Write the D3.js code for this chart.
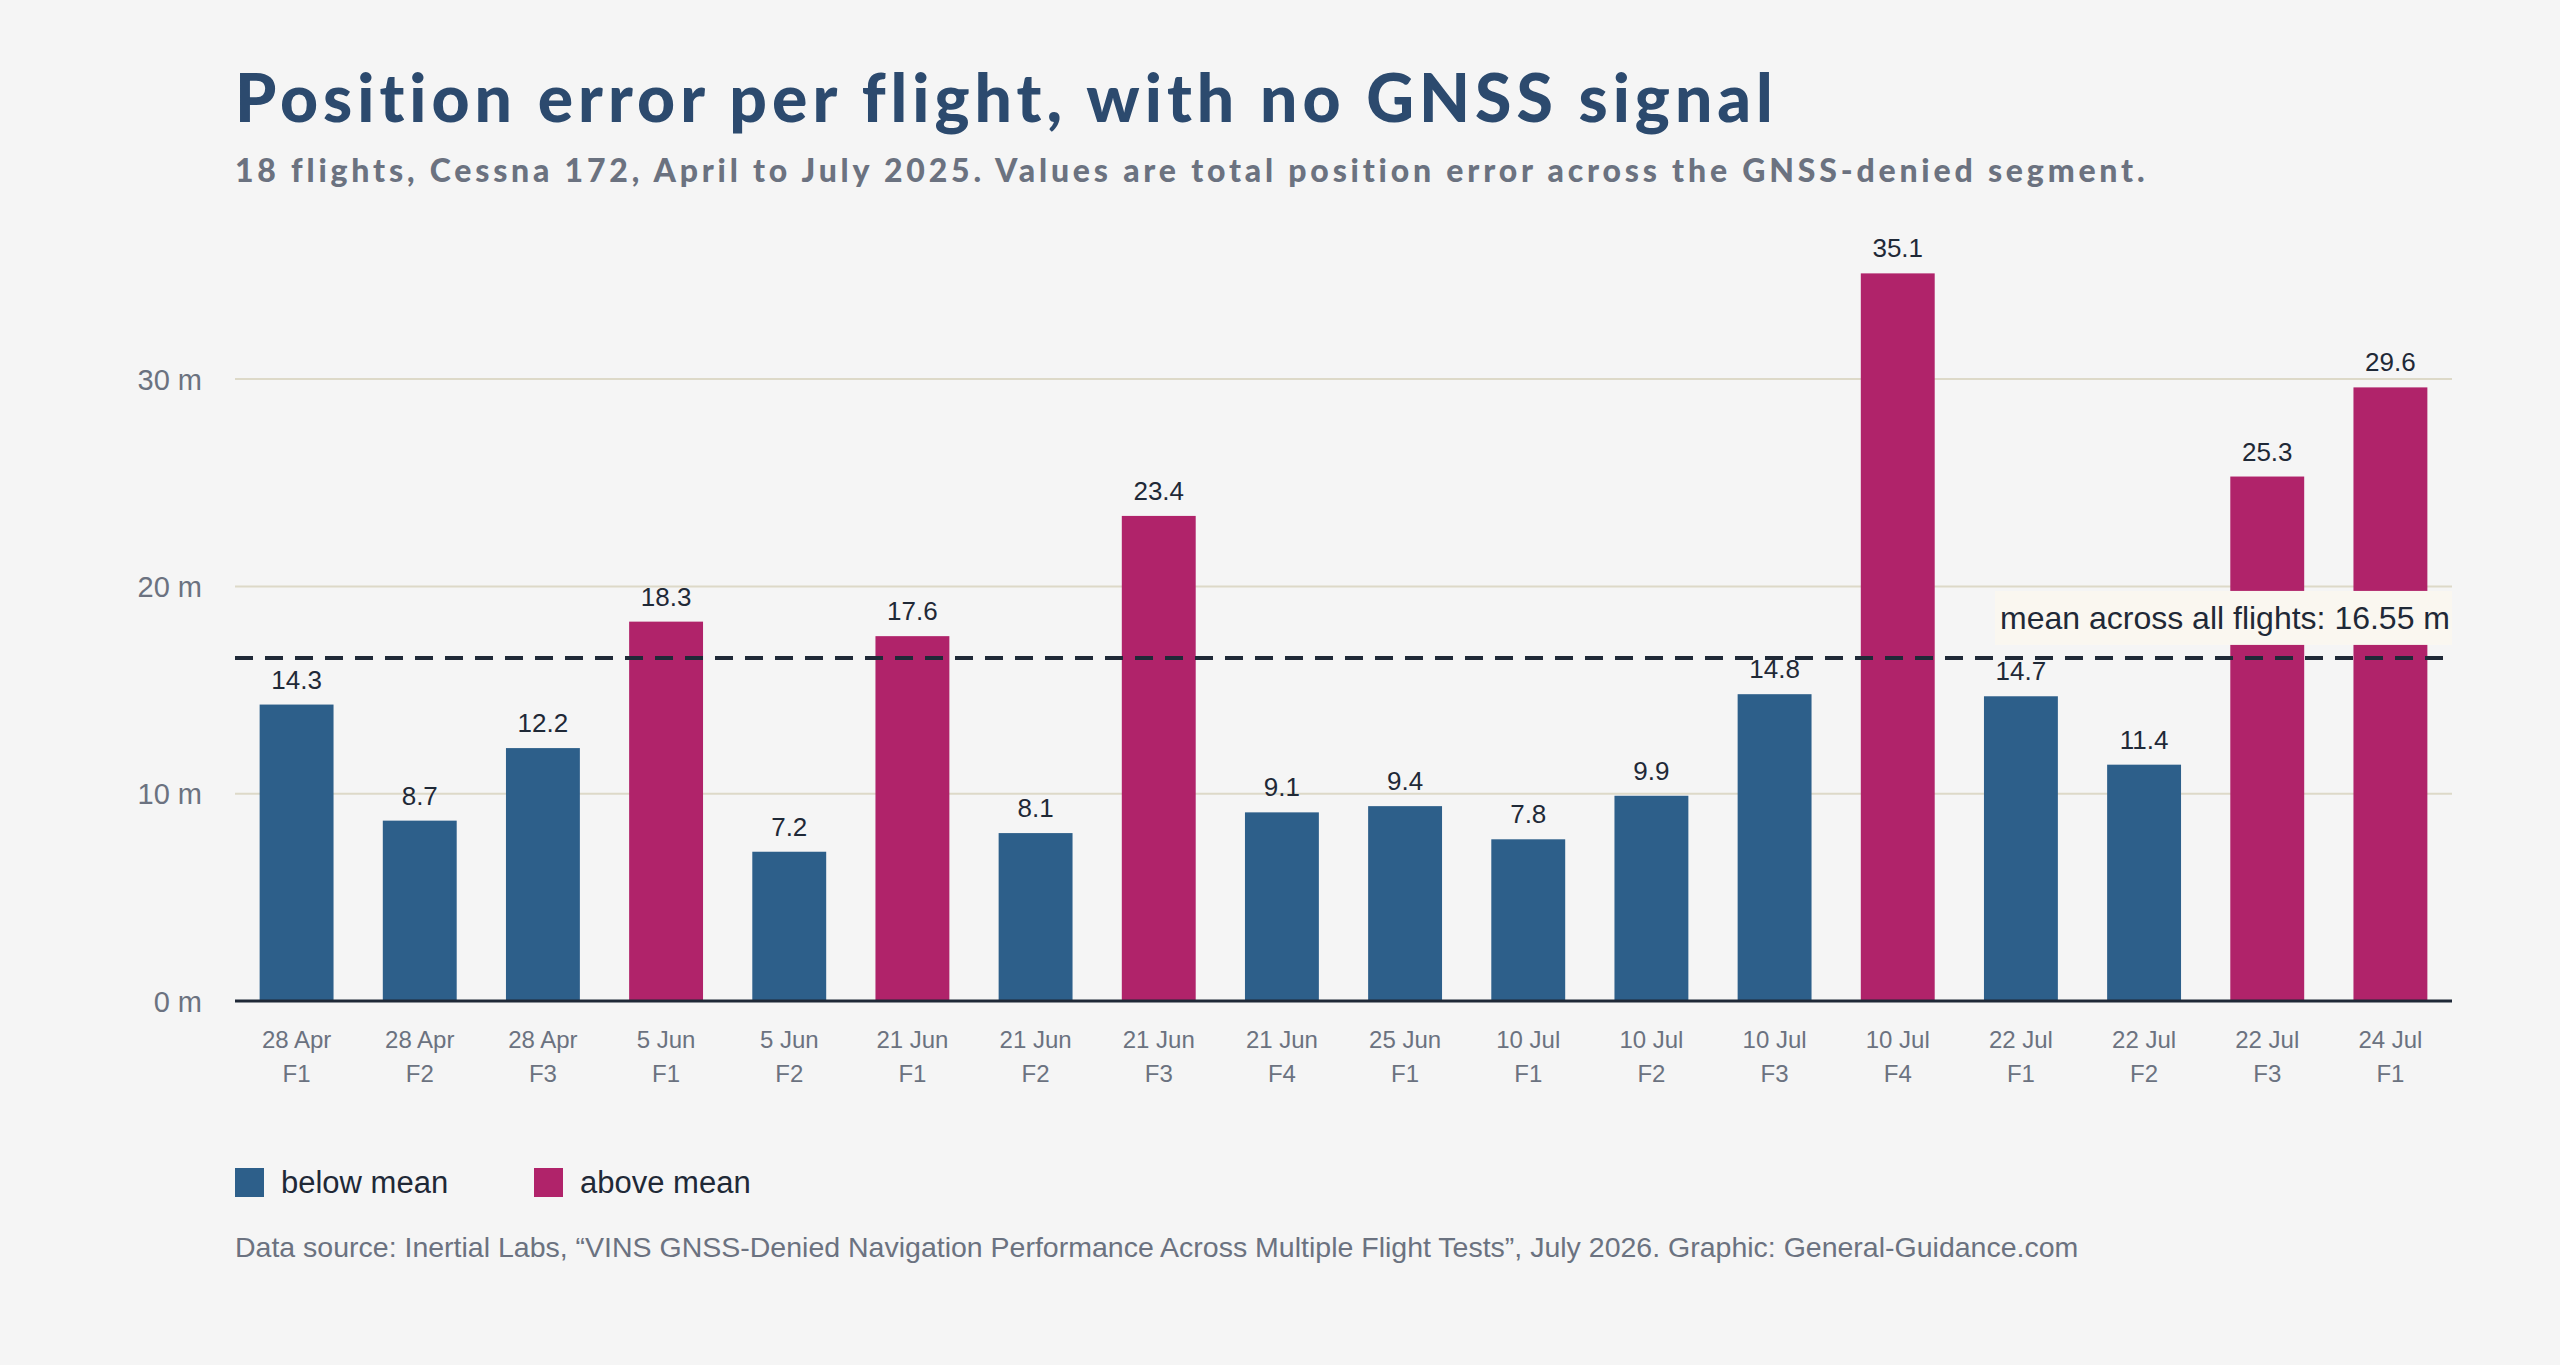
<!DOCTYPE html>
<meta charset="utf-8">
<style>
  body{ margin:0; background:#f5f5f5; }
  text{ font-family: Arial, "Liberation Sans", sans-serif; }
  .title{ font-family: Lato, "Noto Sans", sans-serif; font-weight:900; font-size:66px; letter-spacing:5px; fill:#2c4a6e; }
  .subtitle{ font-family: Lato, "Noto Sans", sans-serif; font-weight:900; font-size:32px; letter-spacing:3.8px; fill:#6b7280; }
  .tick text{ fill:#6b7280; }
</style>
<body>
<div id="container"></div>
<script src="https://d3js.org/d3.v7.min.js"></script>
<script>
var dates = ['28 Apr','28 Apr','28 Apr','5 Jun','5 Jun','21 Jun','21 Jun','21 Jun','21 Jun','25 Jun','10 Jul','10 Jul','10 Jul','10 Jul','22 Jul','22 Jul','22 Jul','24 Jul'];
var flights = ['F1','F2','F3','F1','F2','F1','F2','F3','F4','F1','F1','F2','F3','F4','F1','F2','F3','F1'];
var errors = [14.3,8.7,12.2,18.3,7.2,17.6,8.1,23.4,9.1,9.4,7.8,9.9,14.8,35.1,14.7,11.4,25.3,29.6];
var yTicks = [0,10,20,30];
var meanValue = 16.55;

var W = 2560, H = 1365;
var left = 235, right = 2452, zeroY = 1001;
var blue = '#2d5f8a', magenta = '#b0236a';

var svg = d3.select('#container').append('svg').attr('width',W).attr('height',H);
svg.append('rect').attr('width',W).attr('height',H).attr('fill','#f5f5f5');

svg.append('text').attr('class','title').attr('x',left).attr('y',122).text('Position error per flight, with no GNSS signal');
svg.append('text').attr('class','subtitle').attr('x',left).attr('y',182).text('18 flights, Cessna 172, April to July 2025. Values are total position error across the GNSS-denied segment.');

var idx = d3.range(errors.length);
var x = d3.scaleBand().domain(idx).range([left,right]).paddingInner(0.4).paddingOuter(0.2);
var y = d3.scaleLinear().domain([0,37]).range([zeroY, zeroY-37*20.73]);

// grid
svg.append('g').selectAll('line').data(yTicks.slice(1)).enter().append('line')
  .attr('x1',left).attr('x2',right).attr('y1',d=>y(d)).attr('y2',d=>y(d))
  .attr('stroke','#ddd9c8').attr('stroke-width',2);

var yAxis = svg.append('g').attr('transform','translate('+(left-30)+',0)')
  .call(d3.axisLeft(y).tickValues(yTicks).tickSize(0).tickFormat(d=>d+' m'));
yAxis.select('.domain').remove();
yAxis.selectAll('text').attr('font-size',29).attr('dy','0.35em');

// bars
svg.append('g').selectAll('rect').data(errors).enter().append('rect')
  .attr('x',(d,i)=>x(i)).attr('width',x.bandwidth())
  .attr('y',d=>y(d)).attr('height',d=>zeroY-y(d))
  .attr('fill',d=>d>meanValue?magenta:blue);

svg.append('g').selectAll('text').data(errors).enter().append('text')
  .attr('x',(d,i)=>x(i)+x.bandwidth()/2).attr('y',d=>y(d)-16)
  .attr('text-anchor','middle').attr('font-size',26).attr('fill','#1f2937')
  .text(d=>d.toFixed(1));

// x labels
var xl = svg.append('g').selectAll('text').data(idx).enter().append('text')
  .attr('x',i=>x(i)+x.bandwidth()/2).attr('y',1048)
  .attr('text-anchor','middle').attr('font-size',24).attr('fill','#6b7280');
xl.append('tspan').attr('x',i=>x(i)+x.bandwidth()/2).text(i=>dates[i]);
xl.append('tspan').attr('x',i=>x(i)+x.bandwidth()/2).attr('dy',34).text(i=>flights[i]);

// axis line
svg.append('line').attr('x1',left).attr('x2',right).attr('y1',zeroY).attr('y2',zeroY)
  .attr('stroke','#1f2937').attr('stroke-width',3);

// mean
svg.append('rect').attr('x',1995).attr('y',y(meanValue)-67).attr('width',right-1995).attr('height',54)
  .attr('fill','#faf7f0');
svg.append('text').attr('x',right-2).attr('y',y(meanValue)-29).attr('text-anchor','end')
  .attr('font-size',32).attr('fill','#1f2937').text('mean across all flights: '+meanValue.toFixed(2)+' m');
svg.append('line').attr('x1',left).attr('x2',right).attr('y1',y(meanValue)).attr('y2',y(meanValue))
  .attr('stroke','#1f2937').attr('stroke-width',4).attr('stroke-dasharray','18,12');

// legend
var legend = [{label:'below mean',color:blue,x:235},{label:'above mean',color:magenta,x:534}];
var lg = svg.append('g').selectAll('g').data(legend).enter().append('g');
lg.append('rect').attr('x',d=>d.x).attr('y',1168).attr('width',29).attr('height',29).attr('fill',d=>d.color);
lg.append('text').attr('x',d=>d.x+46).attr('y',1193).attr('font-size',31).attr('fill','#1f2937').text(d=>d.label);

svg.append('text').attr('x',left).attr('y',1257).attr('font-size',28.5).attr('fill','#6b7280')
  .text('Data source: Inertial Labs, \u201cVINS GNSS-Denied Navigation Performance Across Multiple Flight Tests\u201d, July 2026. Graphic: General-Guidance.com');
</script>
</body>
</html>
